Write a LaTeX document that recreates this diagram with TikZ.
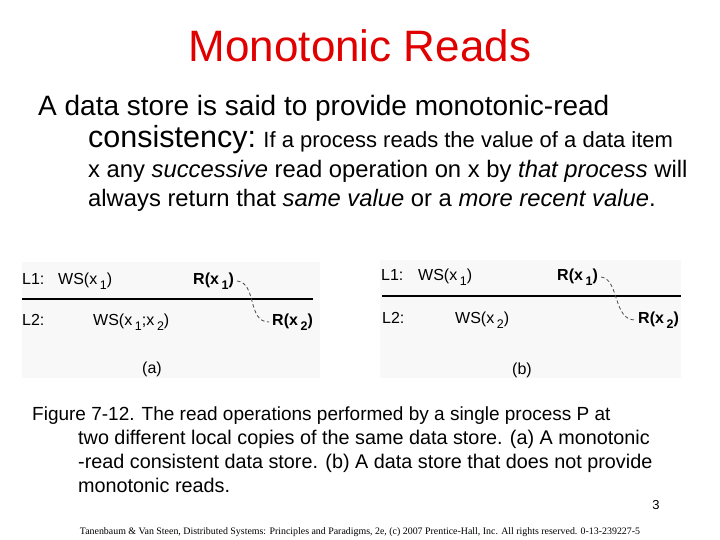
\documentclass[tikz,border=0pt]{standalone}
\usepackage{fontspec}
\setmainfont{Liberation Sans}
\newfontfamily\footfont{Liberation Serif}
\usepackage{tikz}
\usetikzlibrary{positioning}
\definecolor{titlered}{RGB}{224,0,0}
\definecolor{panelgray}{RGB}{248,248,248}
\newcommand{\fsz}[1]{\fontsize{#1}{#1}\selectfont}
\newcommand{\lo}[1]{\,\raisebox{-0.35em}{\fsz{12.5}#1}}
\tikzset{
  txt/.style={anchor=base west, inner sep=0pt},
  lbl/.style={anchor=base west, inner sep=0pt, font=\fsz{16}},
  rd/.style={anchor=base west, inner sep=0pt, font=\fsz{16}\bfseries},
  flow/.style={dashed, dash pattern=on 3.5pt off 2.5pt, line width=0.8pt, black!70}
}

\begin{document}
\begin{tikzpicture}[x=1pt, y=-1pt]
\useasboundingbox (0,0) rectangle (720,540);
\fill[white] (0,0) rectangle (720,540);

% title and text
\node at (360, 62) [anchor=base, inner sep=0pt, font=\fsz{44}, text=titlered] (title) {Monotonic Reads};
\node at (38, 116) [txt, font=\fsz{28}] (def1) {A data store is said to provide monotonic-read};
\node at (88, 148) [txt, font=\fsz{30.5}] (def2) {consistency:};
\node at (def2.base east) [txt, font=\fsz{22}, xshift=7pt] (def2b) {If a process reads the value of a data item};
\node at (88, 178) [txt, font=\fsz{23.8}] (def3) {x any \textit{successive} read operation on x by \textit{that process} will};
\node at (88, 207) [txt, font=\fsz{23.8}] (def4) {always return that \textit{same value} or a \textit{more recent value}.};

% panel (a)
\fill[panelgray] (22,262) rectangle (320,378);
\node at (22, 284) [lbl] (l1a) {L1:};
\node at (58, 284) [lbl] (ws1a) {WS(x\lo{1})};
\node at (193, 284) [rd] (r1a) {R(x\lo{1})};
\node at (22, 325) [lbl] (l2a) {L2:};
\node at (93, 325) [lbl] (ws12a) {WS(x\lo{1};x\lo{2})};
\node at (272, 325) [rd] (r2a) {R(x\lo{2})};
\node at (152, 373) [anchor=base, inner sep=0pt, font=\fsz{16}] (capa) {(a)};
\coordinate (la1) at (22, 299);
\coordinate (la2) at (313, 299);
\draw [line width=1.2pt] (la1) -- (la2);
\draw [flow] ([xshift=3pt]r1a.east) .. controls +(20,2) and +(-22,0) .. ([xshift=-3pt]r2a.west);

% panel (b)
\fill[panelgray] (380,260) rectangle (681,378);
\node at (381, 280) [lbl] (l1b) {L1:};
\node at (418, 280) [lbl] (ws1b) {WS(x\lo{1})};
\node at (557, 280) [rd] (r1b) {R(x\lo{1})};
\node at (382, 323) [lbl] (l2b) {L2:};
\node at (455, 323) [lbl] (ws2b) {WS(x\lo{2})};
\node at (638, 323) [rd] (r2b) {R(x\lo{2})};
\node at (522, 374) [anchor=base, inner sep=0pt, font=\fsz{16}] (capb) {(b)};
\coordinate (lb1) at (382, 296);
\coordinate (lb2) at (681, 296);
\draw [line width=2.4pt] (lb1) -- (lb2);
\draw [flow] ([xshift=3pt]r1b.east) .. controls +(18,2) and +(-22,0) .. ([xshift=-3pt]r2b.west);

% caption
\node at (32, 420) [txt, font=\fsz{19}] (fig1) {Figure 7-12. The read operations performed by a single process P at};
\node at (78, 444) [txt, font=\fsz{19.8}] (fig2) {two different local copies of the same data store. (a) A monotonic};
\node at (78, 468) [txt, font=\fsz{19.8}] (fig3) {-read consistent data store. (b) A data store that does not provide};
\node at (78, 492) [txt, font=\fsz{19.8}] (fig4) {monotonic reads.};

% page number and footer
\node at (656, 509) [anchor=base, inner sep=0pt, font=\fsz{13}] (page) {3};
\node at (360, 534) [anchor=base, inner sep=0pt, font=\footfont\fsz{9.9}] (foot) {Tanenbaum \& Van Steen, Distributed Systems: Principles and Paradigms, 2e, (c) 2007 Prentice-Hall, Inc. All rights reserved. 0-13-239227-5};
\end{tikzpicture}
\end{document}
